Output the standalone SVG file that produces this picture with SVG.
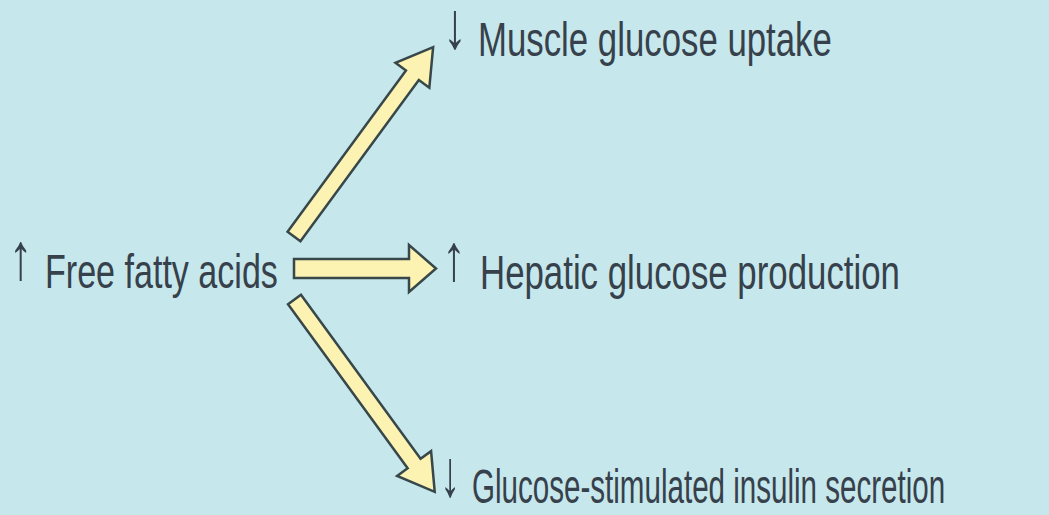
<svg xmlns="http://www.w3.org/2000/svg" width="1049" height="515" viewBox="0 0 1049 515">
<style>
.bg{fill:#c6e7eb}
.lbl{font-family:"Liberation Sans",Arial,sans-serif;font-size:48px;fill:#36414c}
.sym{font-size:66px}
.arr{fill:#fcf2b2;stroke:#37474a;stroke-width:2.5;stroke-linejoin:miter}
</style>
<rect class="bg" x="0" y="0" width="1049" height="515"/>
<g id="connectors">
<path class="arr" d="M0,-8 L200,-8 L200,-21 L235,0 L200,21 L200,8 L0,8 Z" transform="translate(294,236.5) rotate(-53.7)"/>
<path class="arr" d="M0,-9.5 L115,-9.5 L115,-23.5 L142,0 L115,23.5 L115,9.5 L0,9.5 Z" transform="translate(294,268.5)"/>
<path class="arr" d="M0,-8 L203,-8 L203,-21 L238,0 L203,21 L203,8 L0,8 Z" transform="translate(294.5,299.5) rotate(53.9)"/>
</g>
<g id="node-ffa">
<text class="lbl" transform="translate(0,288) scale(0.71,1)"><tspan class="sym" x="12.7" dy="-9">↑</tspan><tspan x="63.4" dy="9">Free fatty acids</tspan></text>
</g>
<g id="node-muscle">
<text class="lbl" transform="translate(0,56) scale(0.725,1)"><tspan class="sym" x="611" dy="-8">↓</tspan><tspan x="659.3" dy="8">Muscle glucose uptake</tspan></text>
</g>
<g id="node-hepatic">
<text class="lbl" transform="translate(0,289) scale(0.7254,1)"><tspan class="sym" x="609.3" dy="-9">↑</tspan><tspan x="661.7" dy="9">Hepatic glucose production</tspan></text>
</g>
<g id="node-insulin">
<text class="lbl" transform="translate(0,503) scale(0.616,1)"><tspan class="sym" x="714.3" dy="-7">↓</tspan><tspan x="766.2" dy="7">Glucose-stimulated insulin secretion</tspan></text>
</g>
</svg>
